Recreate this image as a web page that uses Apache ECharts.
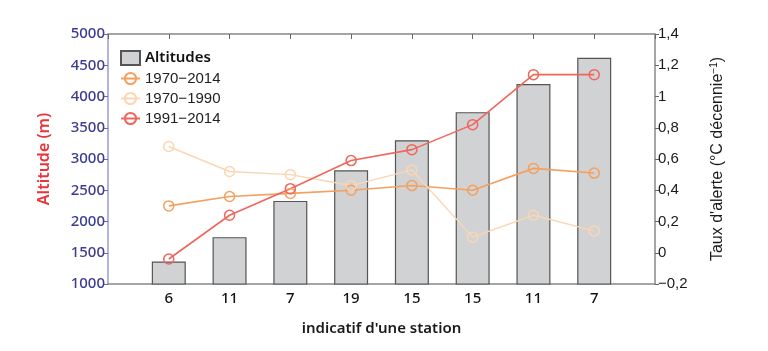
<!DOCTYPE html>
<html>
<head>
    <meta charset="utf-8"/>
    <title>Altitudes et taux d'alerte</title>
    <script src="https://cdn.jsdelivr.net/npm/echarts@6/dist/echarts.min.js"></script>
    <style>
        html, body { margin: 0; padding: 0; background: #fff; }
        #chart { width: 768px; height: 351px; }
    </style>
</head>
<body>
<div id="chart"></div>
<script>
    // données
    var stations = ['6', '11', '7', '19', '15', '15', '11', '7'];
    var altitudes = [1360, 1750, 2330, 2820, 3300, 3750, 4200, 4620];
    var taux7014 = [0.30, 0.36, 0.38, 0.40, 0.43, 0.40, 0.54, 0.51];
    var taux7090 = [0.68, 0.52, 0.50, 0.43, 0.53, 0.10, 0.24, 0.14];
    var taux9114 = [-0.04, 0.24, 0.41, 0.59, 0.66, 0.82, 1.14, 1.14];

    function pts(arr) {
        return arr.map(function (v, i) { return [i + 1, v]; });
    }

    function fmtComma(v) {
        var s = String(+v.toFixed(1));
        return s.replace('.', ',').replace('-', '\u2212');
    }

    function lineSerie(name, data, color, width) {
        return {
            name: name,
            type: 'line',
            yAxisIndex: 1,
            symbol: 'circle',
            symbolSize: 10,
            data: pts(data),
            itemStyle: {color: 'rgba(255,255,255,0)', borderColor: color, borderWidth: 1.5},
            lineStyle: {color: color, width: width},
            z: 5
        };
    }

    var myChart = echarts.init(document.getElementById('chart'));
    var option = {
        animation: false,
        grid: {left: 108, right: 113, top: 34, bottom: 67},
        legend: {
            orient: 'vertical',
            left: 115,
            top: 45,
            itemGap: 5,
            itemWidth: 19,
            itemHeight: 14,
            textStyle: {
                fontFamily: 'Liberation Sans', fontSize: 15, color: '#222',
                rich: {b: {fontFamily: 'Noto Sans', fontSize: 15, fontWeight: 600, color: '#111'}}
            },
            formatter: function (name) {
                return name === 'Altitudes' ? '{b|' + name + '}' : name;
            },
            data: [{name: 'Altitudes', icon: 'rect'}, '1970\u22122014', '1970\u22121990', '1991\u22122014']
        },
        xAxis: [{
            type: 'value',
            min: 0, max: 9, interval: 1,
            name: "indicatif d'une station",
            nameLocation: 'middle',
            nameGap: 37,
            nameTextStyle: {fontFamily: 'Noto Sans', fontSize: 15, fontWeight: 600, color: '#1a1a1a'},
            axisLine: {onZero: false, lineStyle: {color: '#888', width: 1.5}},
            axisTick: {show: false},
            splitLine: {show: false},
            axisLabel: {
                fontFamily: 'Noto Sans', fontSize: 15, fontWeight: 500, color: '#111', margin: 7,
                formatter: function (v) { return stations[v - 1] || ''; }
            }
        }, {
            type: 'value',
            position: 'top',
            min: 0, max: 9, interval: 1,
            axisLine: {onZero: false, lineStyle: {color: '#888', width: 1.5}},
            axisTick: {inside: true, length: 5, lineStyle: {color: '#666'}},
            axisLabel: {show: false},
            splitLine: {show: false}
        }],
        yAxis: [{
            type: 'value',
            min: 1000, max: 5000, interval: 500,
            name: 'Altitude (m)',
            nameLocation: 'middle',
            nameGap: 56,
            nameTextStyle: {fontFamily: 'Noto Sans', fontSize: 16, fontWeight: 600, color: '#e8343c'},
            axisLine: {show: true, onZero: false, lineStyle: {color: '#9a9ad8', width: 1.5}},
            axisTick: {show: true, length: 4, lineStyle: {color: '#6a6ab0'}},
            axisLabel: {
                fontFamily: 'Noto Sans', fontSize: 15, fontWeight: 500, color: '#3c3c94', margin: 3,
                formatter: function (v) { return String(v); }
            },
            splitLine: {show: false}
        }, {
            type: 'value',
            min: -0.2, max: 1.4, interval: 0.2,
            name: "{a|Taux d'alerte (°C décennie}{s|\u22121}{a|)}",
            nameLocation: 'middle',
            nameRotate: 90,
            nameGap: 54,
            nameTextStyle: {
                rich: {
                    a: {fontFamily: 'Liberation Sans', fontSize: 16, color: '#1a1a1a'},
                    s: {fontFamily: 'Liberation Sans', fontSize: 10, color: '#1a1a1a', verticalAlign: 'top', padding: [0, 0, 8, 0]}
                }
            },
            axisLine: {show: true, onZero: false, lineStyle: {color: '#888', width: 1.5}},
            axisTick: {show: true, length: 4, lineStyle: {color: '#666'}},
            axisLabel: {fontFamily: 'Liberation Sans', fontSize: 15, color: '#1a1a1a', margin: 3, formatter: fmtComma},
            splitLine: {show: false}
        }],
        series: [{
            name: 'Altitudes',
            type: 'bar',
            barWidth: 34,
            data: pts(altitudes),
            itemStyle: {color: '#d0d2d4', borderColor: '#555', borderWidth: 1.2},
            z: 2
        },
            lineSerie('1970\u22122014', taux7014, '#f5a05e', 1.6),
            lineSerie('1970\u22121990', taux7090, '#fbd6b2', 1.4),
            lineSerie('1991\u22122014', taux9114, '#f0665c', 1.6)
        ]
    };
    myChart.setOption(option);
</script>
</body>
</html>
